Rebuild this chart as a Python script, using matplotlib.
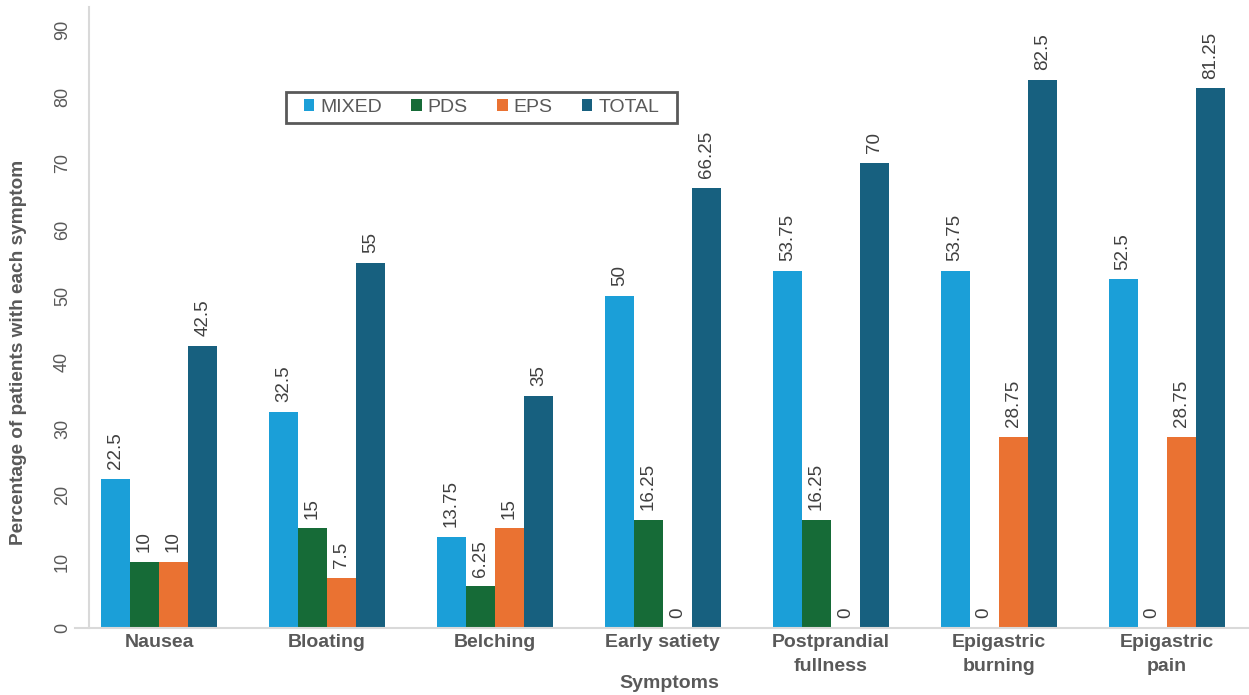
import numpy as np
from matplotlib import pyplot as plt
from matplotlib.patches import Rectangle

plt.rcParams['font.family'] = ['Liberation Sans', 'DejaVu Sans']

categories = ['Nausea', 'Bloating', 'Belching', 'Early satiety',
              'Postprandial\nfullness', 'Epigastric\nburning', 'Epigastric\npain']
mixed = [22.5, 32.5, 13.75, 50, 53.75, 53.75, 52.5]
pds = [10, 15, 6.25, 16.25, 16.25, 0, 0]
eps = [10, 7.5, 15, 0, 0, 28.75, 28.75]
total = [42.5, 55, 35, 66.25, 70, 82.5, 81.25]

series = [('MIXED', mixed, '#1B9FD8'), ('PDS', pds, '#166B37'),
          ('EPS', eps, '#EA7232'), ('TOTAL', total, '#17607F')]

fig = plt.figure(figsize=(12.49, 6.95), dpi=100)
ax = fig.add_axes([0.0713, 0.0964, 0.9287, 0.8935])

x = np.arange(len(categories))
w = 0.173
for i, (name, vals, col) in enumerate(series):
    pos = x + (i - 1.5) * w
    bars = ax.bar(pos, vals, width=w, color=col, label=name)
    for b, v in zip(bars, vals):
        ax.annotate('%g' % v, (b.get_x() + b.get_width() / 2, v),
                    xytext=(0, 7), textcoords='offset points',
                    rotation=90, ha='center', va='bottom',
                    fontsize=13.5, color='#404040')

ax.set_xlim(-0.417, 6.49)
ax.set_ylim(0, 93.5)
ax.set_yticks(np.arange(0, 91, 10))
ax.set_yticklabels([str(t) for t in range(0, 91, 10)], rotation=90,
                   va='center', fontsize=13, color='#595959')
ax.tick_params(axis='y', length=0, pad=13)
ax.set_xticks(x)
ax.set_xticklabels(categories, fontsize=14, fontweight='bold', color='#595959',
                   linespacing=1.55)
ax.tick_params(axis='x', length=0, pad=4)

for s in ['top', 'right']:
    ax.spines[s].set_visible(False)
ax.spines['left'].set_color('#D9D9D9')
ax.spines['bottom'].set_color('#D9D9D9')
ax.spines['left'].set_linewidth(1.5)
ax.spines['bottom'].set_linewidth(1.5)
ax.spines['bottom'].set_bounds(-0.5, 6.49)

ax.set_xlabel('Symptoms', fontsize=14, fontweight='bold', color='#595959',
              labelpad=0)
ax.set_ylabel('Percentage of patients with each symptom', fontsize=13.7,
              fontweight='bold', color='#595959')
ax.yaxis.set_label_coords(-0.0534, 0.443)

# legend frame drawn separately (wider padding than legend's own frame)
ax.add_patch(Rectangle((0.1698, 0.8132), 0.337, 0.0499, transform=ax.transAxes,
                       facecolor='white', edgecolor='#595959', linewidth=2,
                       zorder=4, clip_on=False))
leg = ax.legend(loc='center', bbox_to_anchor=(0.1698 + 0.337 / 2, 0.8381), ncol=4,
                frameon=False, fontsize=14,
                handlelength=0.55, handleheight=0.55, handletextpad=0.3,
                columnspacing=1.5, borderpad=0, borderaxespad=0,
                labelcolor='#595959')
leg.set_zorder(5)

fig.savefig('out.png', dpi=100)
